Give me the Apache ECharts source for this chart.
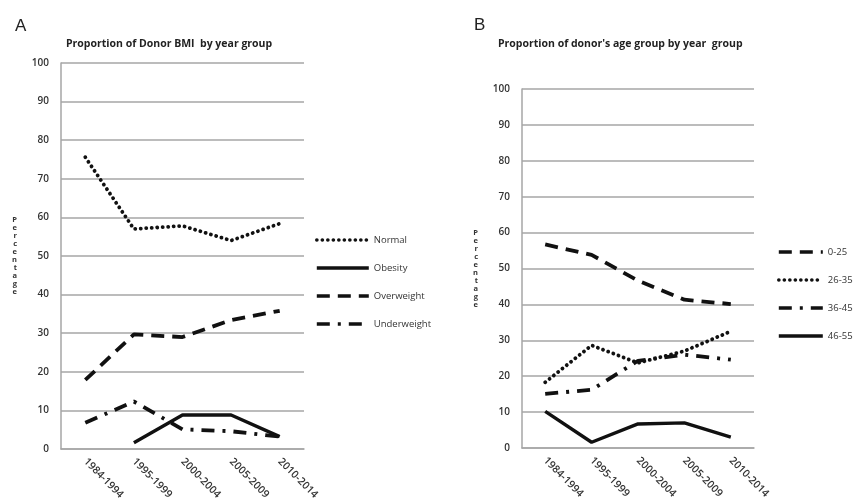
<!DOCTYPE html>
<html><head><meta charset="utf-8">
<script src="https://cdn.jsdelivr.net/npm/echarts@6/dist/echarts.min.js"></script>
<style>html,body{margin:0;padding:0;background:#fff}#c{width:861px;height:503px}</style>
</head><body><div id="c"></div>
<script>
const categories = ['1984-1994','1995-1999','2000-2004','2005-2009','2010-2014'];
const yTicks = [0,10,20,30,40,50,60,70,80,90,100];
// Panel A: BMI
const bmiNormal = [75.6, 57, 57.8, 54, 58.4];
const bmiObesity = [null, 1.6, 8.8, 8.8, 3.2];
const bmiOverweight = [17.9, 29.7, 29, 33.4, 35.8];
const bmiUnderweight = [6.8, 12.3, 5.1, 4.6, 3.2];
// Panel B: age
const age0_25 = [56.7, 53.8, 46.6, 41.3, 40.1];
const age26_35 = [18.3, 28.6, 23.7, 27, 32.5];
const age36_45 = [15.1, 16.2, 24.3, 26, 24.6];
const age46_55 = [10.2, 1.6, 6.7, 7, 3];

const FONT = 'Open Sans';
const GRAY = '#a6a6a6';
const styles = {
  dotted: {type:[0.1,5.4], cap:'round', width:3.8},
  solid: {type:'solid', width:3.4},
  dashed: {type:[13,8], width:3.8},
  dashdot: {type:[13,8,3,8], width:3.8}
};
function xAx(gi){
  return {type:'category', gridIndex:gi, data:categories, boundaryGap:true,
    axisLine:{lineStyle:{color:GRAY,width:1.5}}, axisTick:{show:false},
    axisLabel:{rotate:-45, fontSize:10.5, color:'#333', fontFamily:FONT, fontWeight:600, margin:11, interval:0}};
}
function yAx(gi){
  return {type:'value', gridIndex:gi, min:yTicks[0], max:yTicks[yTicks.length-1], interval:10,
    axisLine:{show:true, lineStyle:{color:GRAY,width:1.5}}, axisTick:{show:false},
    splitLine:{lineStyle:{color:GRAY,width:1.5}},
    axisLabel:{fontSize:10, color:'#333', fontFamily:FONT, fontWeight:600, margin:12},
    name:'P\ne\nr\nc\ne\nn\nt\na\ng\ne', nameLocation:'middle', nameRotate:0, nameGap:44,
    nameTextStyle:{fontSize:7.5, lineHeight:8, fontWeight:'bold', color:'#333', fontFamily:FONT}};
}
function ser(name, data, ls, xi){
  return {name, type:'line', data, xAxisIndex:xi, yAxisIndex:xi, symbol:'none',
    connectNulls:false, lineStyle:Object.assign({color:'#111'}, ls), itemStyle:{color:'#111'}, silent:true};
}
const legendCommon = {orient:'vertical', itemHeight:10, itemGap:18,
  itemStyle:{opacity:0}, lineStyle:{width:3.6}, textStyle:{fontSize:9.5, color:'#333', fontFamily:FONT}};
const chart = echarts.init(document.getElementById('c'), null, {renderer:'canvas'});
chart.setOption({
  animation:false,
  backgroundColor:'#fff',
  title:[
    {text:'A', left:10, top:13, textStyle:{fontSize:17, fontWeight:'normal', color:'#222', fontFamily:'Liberation Sans'}},
    {text:'Proportion of Donor BMI  by year group', left:61, top:34, textStyle:{fontSize:10.5, fontWeight:'bold', color:'#222', fontFamily:FONT}},
    {text:'B', left:469, top:12, textStyle:{fontSize:17, fontWeight:'normal', color:'#222', fontFamily:'Liberation Sans'}},
    {text:"Proportion of donor's age group by year  group", left:493, top:34, textStyle:{fontSize:10.5, fontWeight:'bold', color:'#222', fontFamily:FONT}}
  ],
  grid:[
    {left:61, top:63, width:243, height:386},
    {left:522, top:89, width:232, height:359}
  ],
  xAxis:[xAx(0), xAx(1)],
  yAxis:[yAx(0), yAx(1)],
  legend:[
    Object.assign({data:['Normal','Obesity','Overweight','Underweight'], left:310, top:230, itemWidth:52}, legendCommon),
    Object.assign({data:['0-25','26-35','36-45','46-55'], left:772, top:242, itemWidth:44}, legendCommon)
  ],
  series:[
    ser('Normal', bmiNormal, styles.dotted, 0),
    ser('Obesity', bmiObesity, styles.solid, 0),
    ser('Overweight', bmiOverweight, styles.dashed, 0),
    ser('Underweight', bmiUnderweight, styles.dashdot, 0),
    ser('0-25', age0_25, styles.dashed, 1),
    ser('26-35', age26_35, styles.dotted, 1),
    ser('36-45', age36_45, styles.dashdot, 1),
    ser('46-55', age46_55, styles.solid, 1)
  ]
});
</script></body></html>
